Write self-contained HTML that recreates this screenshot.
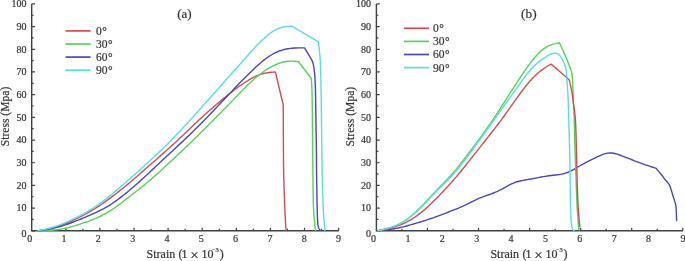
<!DOCTYPE html>
<html><head><meta charset="utf-8"><style>
html,body{margin:0;padding:0;background:#fff;width:685px;height:261px;overflow:hidden}
svg{display:block}
</style></head><body>
<svg width="685" height="261" viewBox="0 0 685 261">
<rect width="685" height="261" fill="#fff"/>
<g>
<path d="M31.70,3.90 V230.80 H338.70" fill="none" stroke="#404040" stroke-width="1.4"/>
<path d="M31.70,230.80 h3.3 M31.70,208.11 h3.3 M31.70,185.42 h3.3 M31.70,162.73 h3.3 M31.70,140.04 h3.3 M31.70,117.35 h3.3 M31.70,94.66 h3.3 M31.70,71.97 h3.3 M31.70,49.28 h3.3 M31.70,26.59 h3.3 M31.70,3.90 h3.3 M31.70,219.46 h2.0 M31.70,196.77 h2.0 M31.70,174.08 h2.0 M31.70,151.38 h2.0 M31.70,128.69 h2.0 M31.70,106.01 h2.0 M31.70,83.31 h2.0 M31.70,60.62 h2.0 M31.70,37.94 h2.0 M31.70,15.25 h2.0 M65.80,230.80 v-3.0 M99.90,230.80 v-3.0 M134.00,230.80 v-3.0 M168.10,230.80 v-3.0 M202.20,230.80 v-3.0 M236.30,230.80 v-3.0 M270.40,230.80 v-3.0 M304.50,230.80 v-3.0 M338.60,230.80 v-3.0 M48.75,230.80 v-2.0 M82.85,230.80 v-2.0 M116.95,230.80 v-2.0 M151.05,230.80 v-2.0 M185.15,230.80 v-2.0 M219.25,230.80 v-2.0 M253.35,230.80 v-2.0 M287.45,230.80 v-2.0 M321.55,230.80 v-2.0 " fill="none" stroke="#404040" stroke-width="1.2"/>
<path d="M376.40,3.90 V230.80 H683.00" fill="none" stroke="#404040" stroke-width="1.4"/>
<path d="M376.40,230.80 h3.3 M376.40,208.11 h3.3 M376.40,185.42 h3.3 M376.40,162.73 h3.3 M376.40,140.04 h3.3 M376.40,117.35 h3.3 M376.40,94.66 h3.3 M376.40,71.97 h3.3 M376.40,49.28 h3.3 M376.40,26.59 h3.3 M376.40,3.90 h3.3 M376.40,219.46 h2.0 M376.40,196.77 h2.0 M376.40,174.08 h2.0 M376.40,151.38 h2.0 M376.40,128.69 h2.0 M376.40,106.01 h2.0 M376.40,83.31 h2.0 M376.40,60.62 h2.0 M376.40,37.94 h2.0 M376.40,15.25 h2.0 M427.46,230.80 v-3.0 M478.52,230.80 v-3.0 M529.58,230.80 v-3.0 M580.64,230.80 v-3.0 M631.70,230.80 v-3.0 M682.76,230.80 v-3.0 M401.93,230.80 v-2.0 M452.99,230.80 v-2.0 M504.05,230.80 v-2.0 M555.11,230.80 v-2.0 M606.17,230.80 v-2.0 M657.23,230.80 v-2.0 " fill="none" stroke="#404040" stroke-width="1.2"/>
<g font-family="Liberation Serif, serif" font-size="10" fill="#333333" stroke="#333333" stroke-width="0.2">
<text x="26.4" y="237.30" text-anchor="end">0</text><text x="26.4" y="211.41" text-anchor="end">10</text><text x="26.4" y="188.72" text-anchor="end">20</text><text x="26.4" y="166.03" text-anchor="end">30</text><text x="26.4" y="143.34" text-anchor="end">40</text><text x="26.4" y="120.65" text-anchor="end">50</text><text x="26.4" y="97.96" text-anchor="end">60</text><text x="26.4" y="75.27" text-anchor="end">70</text><text x="26.4" y="52.58" text-anchor="end">80</text><text x="26.4" y="29.89" text-anchor="end">90</text><text x="26.4" y="7.20" text-anchor="end">100</text>
<text x="370.9" y="237.30" text-anchor="end">0</text><text x="370.9" y="211.41" text-anchor="end">10</text><text x="370.9" y="188.72" text-anchor="end">20</text><text x="370.9" y="166.03" text-anchor="end">30</text><text x="370.9" y="143.34" text-anchor="end">40</text><text x="370.9" y="120.65" text-anchor="end">50</text><text x="370.9" y="97.96" text-anchor="end">60</text><text x="370.9" y="75.27" text-anchor="end">70</text><text x="370.9" y="52.58" text-anchor="end">80</text><text x="370.9" y="29.89" text-anchor="end">90</text><text x="370.9" y="7.20" text-anchor="end">100</text>
<text x="29.70" y="242.4" text-anchor="middle">0</text><text x="64.02" y="242.4" text-anchor="middle">1</text><text x="98.34" y="242.4" text-anchor="middle">2</text><text x="132.66" y="242.4" text-anchor="middle">3</text><text x="166.98" y="242.4" text-anchor="middle">4</text><text x="201.30" y="242.4" text-anchor="middle">5</text><text x="235.62" y="242.4" text-anchor="middle">6</text><text x="269.94" y="242.4" text-anchor="middle">7</text><text x="304.26" y="242.4" text-anchor="middle">8</text><text x="338.58" y="242.4" text-anchor="middle">9</text>
<text x="373.50" y="242.4" text-anchor="middle">0</text><text x="407.88" y="242.4" text-anchor="middle">1</text><text x="442.26" y="242.4" text-anchor="middle">2</text><text x="476.64" y="242.4" text-anchor="middle">3</text><text x="511.02" y="242.4" text-anchor="middle">4</text><text x="545.40" y="242.4" text-anchor="middle">5</text><text x="579.78" y="242.4" text-anchor="middle">6</text><text x="614.16" y="242.4" text-anchor="middle">7</text><text x="648.54" y="242.4" text-anchor="middle">8</text><text x="682.92" y="242.4" text-anchor="middle">9</text>
<line x1="65.6" y1="30.90" x2="90.6" y2="30.90" stroke="#cc5050" stroke-width="1.7"/><text x="96.0" y="34.80" font-size="11.5">0<tspan dx="0.6">°</tspan></text><line x1="65.6" y1="44.00" x2="90.6" y2="44.00" stroke="#5ad05a" stroke-width="1.7"/><text x="96.0" y="47.90" font-size="11.5">30<tspan dx="0.6">°</tspan></text><line x1="65.6" y1="57.10" x2="90.6" y2="57.10" stroke="#4848b4" stroke-width="1.7"/><text x="96.0" y="61.00" font-size="11.5">60<tspan dx="0.6">°</tspan></text><line x1="65.6" y1="70.20" x2="90.6" y2="70.20" stroke="#5adce0" stroke-width="1.7"/><text x="96.0" y="74.10" font-size="11.5">90<tspan dx="0.6">°</tspan></text>
<line x1="404.0" y1="28.30" x2="429.0" y2="28.30" stroke="#cc5050" stroke-width="1.7"/><text x="433.0" y="32.20" font-size="11.5">0<tspan dx="0.6">°</tspan></text><line x1="404.0" y1="41.40" x2="429.0" y2="41.40" stroke="#5ad05a" stroke-width="1.7"/><text x="433.0" y="45.30" font-size="11.5">30<tspan dx="0.6">°</tspan></text><line x1="404.0" y1="54.50" x2="429.0" y2="54.50" stroke="#4848b4" stroke-width="1.7"/><text x="433.0" y="58.40" font-size="11.5">60<tspan dx="0.6">°</tspan></text><line x1="404.0" y1="67.60" x2="429.0" y2="67.60" stroke="#5adce0" stroke-width="1.7"/><text x="433.0" y="71.50" font-size="11.5">90<tspan dx="0.6">°</tspan></text>
<text x="146.55" y="257.6" font-size="12">Strain</text><text x="178.60" y="257.6" font-size="12">(</text><text x="181.60" y="257.6" font-size="12">1</text><text x="190.25" y="259.6" font-size="15">×</text><text x="201.50" y="257.6" font-size="12">10</text><text x="212.35" y="251.0" font-size="7">-</text><text x="215.50" y="251.6" font-size="6.5">3</text><text x="219.65" y="257.6" font-size="12">)</text>
<text x="490.45" y="257.6" font-size="12">Strain</text><text x="522.50" y="257.6" font-size="12">(</text><text x="525.50" y="257.6" font-size="12">1</text><text x="534.15" y="259.6" font-size="15">×</text><text x="545.40" y="257.6" font-size="12">10</text><text x="556.25" y="251.0" font-size="7">-</text><text x="559.40" y="251.6" font-size="6.5">3</text><text x="563.55" y="257.6" font-size="12">)</text>
<text transform="translate(8.7,116.5) rotate(-90)" text-anchor="middle" font-size="11.6">Stress (Mpa)</text>
<text transform="translate(353.5,116.6) rotate(-90)" text-anchor="middle" font-size="11.6">Stress (Mpa)</text>
<text x="177.2" y="17.5" font-size="13">(a)</text><text x="521.1" y="18.2" font-size="13.3">(b)</text>
</g>
<path d="M38.50,230.80 L40.52,230.47 L42.55,230.13 L44.57,229.76 L46.60,229.38 L48.62,228.96 L50.65,228.49 L52.67,227.98 L54.70,227.41 L56.72,226.80 L58.75,226.14 L60.77,225.44 L62.80,224.70 L64.82,223.91 L66.85,223.08 L68.87,222.21 L70.90,221.32 L72.92,220.39 L74.95,219.43 L76.97,218.44 L79.00,217.43 L81.02,216.39 L83.05,215.33 L85.07,214.25 L87.09,213.15 L89.12,212.02 L91.14,210.88 L93.17,209.70 L95.19,208.48 L97.22,207.21 L99.24,205.90 L101.27,204.53 L103.29,203.11 L105.32,201.66 L107.34,200.18 L109.37,198.67 L111.39,197.14 L113.42,195.60 L115.44,194.05 L117.47,192.49 L119.49,190.91 L121.52,189.31 L123.54,187.69 L125.57,186.06 L127.59,184.40 L129.62,182.72 L131.64,181.01 L133.66,179.27 L135.69,177.51 L137.71,175.73 L139.74,173.94 L141.76,172.16 L143.79,170.37 L145.81,168.59 L147.84,166.80 L149.86,165.02 L151.89,163.24 L153.91,161.46 L155.94,159.69 L157.96,157.92 L159.99,156.15 L162.01,154.38 L164.04,152.60 L166.06,150.82 L168.09,149.02 L170.11,147.21 L172.14,145.38 L174.16,143.53 L176.19,141.65 L178.21,139.76 L180.24,137.86 L182.26,135.94 L184.28,134.01 L186.31,132.08 L188.33,130.15 L190.36,128.21 L192.38,126.28 L194.41,124.36 L196.43,122.44 L198.46,120.54 L200.48,118.66 L202.51,116.79 L204.53,114.94 L206.56,113.10 L208.58,111.29 L210.61,109.49 L212.63,107.72 L214.66,105.96 L216.68,104.22 L218.71,102.50 L220.73,100.80 L222.76,99.12 L224.78,97.46 L226.81,95.83 L228.83,94.22 L230.85,92.63 L232.88,91.07 L234.90,89.54 L236.93,88.04 L238.95,86.56 L240.98,85.12 L243.00,83.71 L245.03,82.34 L247.05,81.03 L249.08,79.78 L251.10,78.61 L253.13,77.51 L255.15,76.51 L257.18,75.60 L259.20,74.80 L261.23,74.11 L263.25,73.53 L265.28,73.07 L267.30,72.71 L269.33,72.44 L271.35,72.25 L273.38,72.11 L275.40,72.00 L279.40,89.00 L283.20,104.50 L283.21,105.81 L283.23,107.50 L283.24,109.56 L283.26,112.00 L283.28,114.81 L283.30,118.00 L283.31,121.70 L283.33,125.93 L283.34,130.53 L283.35,135.35 L283.37,140.23 L283.40,145.00 L283.43,149.69 L283.46,154.44 L283.49,159.25 L283.54,164.11 L283.61,169.03 L283.70,174.00 L283.82,179.11 L283.97,184.39 L284.14,189.71 L284.32,194.99 L284.51,200.12 L284.70,205.00 L284.91,209.88 L285.16,214.88 L285.41,219.74 L285.65,224.16 L285.86,227.88 L286.00,230.60" fill="none" stroke="#cc5050" stroke-width="1.4" stroke-linejoin="round" stroke-linecap="round"/>
<path d="M41.00,230.80 L43.03,230.72 L45.06,230.63 L47.08,230.53 L49.11,230.40 L51.14,230.25 L53.17,230.07 L55.19,229.86 L57.22,229.62 L59.25,229.33 L61.28,229.01 L63.30,228.64 L65.33,228.24 L67.36,227.78 L69.39,227.29 L71.41,226.75 L73.44,226.18 L75.47,225.58 L77.50,224.96 L79.52,224.31 L81.55,223.64 L83.58,222.96 L85.61,222.26 L87.63,221.54 L89.66,220.79 L91.69,220.01 L93.72,219.19 L95.74,218.34 L97.77,217.44 L99.80,216.50 L101.83,215.50 L103.85,214.45 L105.88,213.34 L107.91,212.16 L109.94,210.92 L111.96,209.61 L113.99,208.24 L116.02,206.81 L118.05,205.34 L120.07,203.83 L122.10,202.30 L124.13,200.74 L126.16,199.18 L128.19,197.60 L130.21,196.03 L132.24,194.45 L134.27,192.87 L136.30,191.30 L138.32,189.71 L140.35,188.12 L142.38,186.51 L144.41,184.88 L146.43,183.23 L148.46,181.55 L150.49,179.84 L152.52,178.10 L154.54,176.33 L156.57,174.52 L158.60,172.69 L160.63,170.84 L162.65,168.96 L164.68,167.08 L166.71,165.18 L168.74,163.28 L170.76,161.37 L172.79,159.47 L174.82,157.57 L176.85,155.67 L178.87,153.77 L180.90,151.87 L182.93,149.97 L184.96,148.05 L186.98,146.13 L189.01,144.20 L191.04,142.25 L193.07,140.29 L195.09,138.31 L197.12,136.33 L199.15,134.33 L201.18,132.33 L203.20,130.32 L205.23,128.30 L207.26,126.27 L209.29,124.24 L211.31,122.20 L213.34,120.16 L215.37,118.11 L217.40,116.06 L219.43,114.01 L221.45,111.94 L223.48,109.87 L225.51,107.79 L227.54,105.70 L229.56,103.60 L231.59,101.49 L233.62,99.37 L235.65,97.26 L237.67,95.16 L239.70,93.07 L241.73,91.01 L243.76,88.97 L245.78,86.95 L247.81,84.97 L249.84,83.03 L251.87,81.14 L253.89,79.31 L255.92,77.56 L257.95,75.87 L259.98,74.26 L262.00,72.73 L264.03,71.28 L266.06,69.91 L268.09,68.62 L270.11,67.42 L272.14,66.30 L274.17,65.28 L276.20,64.35 L278.22,63.53 L280.25,62.81 L282.28,62.21 L284.31,61.74 L286.33,61.40 L288.36,61.19 L290.39,61.11 L292.42,61.15 L294.44,61.30 L296.47,61.52 L298.50,61.80 L311.30,78.50 L311.38,79.69 L311.49,81.20 L311.62,83.06 L311.76,85.30 L311.89,87.93 L312.00,91.00 L312.08,94.33 L312.15,97.85 L312.21,101.78 L312.27,106.31 L312.33,111.65 L312.40,118.00 L312.48,125.94 L312.56,135.44 L312.64,145.75 L312.73,156.11 L312.82,165.78 L312.90,174.00 L312.98,180.80 L313.05,186.78 L313.12,192.06 L313.20,196.78 L313.29,201.05 L313.40,205.00 L313.52,208.48 L313.66,211.35 L313.81,213.78 L313.96,215.93 L314.13,217.95 L314.30,220.00 L314.50,222.13 L314.72,224.22 L314.96,226.19 L315.18,227.94 L315.37,229.41 L315.50,230.50" fill="none" stroke="#5ad05a" stroke-width="1.4" stroke-linejoin="round" stroke-linecap="round"/>
<path d="M38.90,230.70 L40.93,230.42 L42.95,230.13 L44.98,229.82 L47.01,229.50 L49.04,229.15 L51.06,228.76 L53.09,228.33 L55.12,227.87 L57.15,227.37 L59.17,226.82 L61.20,226.24 L63.23,225.61 L65.26,224.95 L67.28,224.25 L69.31,223.51 L71.34,222.75 L73.37,221.98 L75.39,221.19 L77.42,220.38 L79.45,219.56 L81.48,218.73 L83.50,217.89 L85.53,217.03 L87.56,216.17 L89.59,215.30 L91.61,214.42 L93.64,213.52 L95.67,212.60 L97.70,211.65 L99.72,210.67 L101.75,209.65 L103.78,208.59 L105.81,207.47 L107.83,206.29 L109.86,205.05 L111.89,203.74 L113.92,202.37 L115.94,200.93 L117.97,199.45 L120.00,197.92 L122.03,196.36 L124.05,194.76 L126.08,193.12 L128.11,191.45 L130.14,189.76 L132.16,188.03 L134.19,186.28 L136.22,184.50 L138.25,182.70 L140.27,180.88 L142.30,179.04 L144.33,177.19 L146.36,175.31 L148.38,173.43 L150.41,171.53 L152.44,169.63 L154.47,167.72 L156.49,165.81 L158.52,163.90 L160.55,161.99 L162.58,160.09 L164.60,158.20 L166.63,156.31 L168.66,154.43 L170.69,152.56 L172.71,150.68 L174.74,148.80 L176.77,146.92 L178.80,145.03 L180.82,143.13 L182.85,141.22 L184.88,139.30 L186.91,137.37 L188.93,135.42 L190.96,133.47 L192.99,131.49 L195.02,129.51 L197.04,127.51 L199.07,125.49 L201.10,123.46 L203.13,121.41 L205.15,119.34 L207.18,117.25 L209.21,115.15 L211.24,113.04 L213.26,110.91 L215.29,108.77 L217.32,106.63 L219.35,104.48 L221.37,102.34 L223.40,100.19 L225.43,98.05 L227.46,95.90 L229.48,93.76 L231.51,91.61 L233.54,89.47 L235.57,87.33 L237.59,85.20 L239.62,83.09 L241.65,81.00 L243.68,78.93 L245.70,76.89 L247.73,74.88 L249.76,72.89 L251.79,70.93 L253.81,69.00 L255.84,67.11 L257.87,65.26 L259.90,63.46 L261.92,61.73 L263.95,60.09 L265.98,58.54 L268.01,57.09 L270.03,55.74 L272.06,54.51 L274.09,53.38 L276.12,52.38 L278.14,51.49 L280.17,50.71 L282.20,50.06 L284.23,49.50 L286.25,49.05 L288.28,48.69 L290.31,48.41 L292.34,48.21 L294.36,48.07 L296.39,47.97 L298.42,47.92 L300.45,47.90 L302.47,47.89 L304.50,47.90 L304.96,48.65 L305.60,49.69 L306.36,50.92 L307.17,52.24 L307.97,53.57 L308.70,54.80 L309.38,55.93 L310.07,57.05 L310.76,58.16 L311.40,59.30 L311.99,60.47 L312.50,61.70 L312.91,62.92 L313.24,64.11 L313.52,65.34 L313.76,66.69 L313.98,68.21 L314.20,70.00 L314.42,71.90 L314.63,73.84 L314.82,75.96 L314.99,78.42 L315.15,81.38 L315.30,85.00 L315.43,89.47 L315.54,94.70 L315.64,100.44 L315.73,106.41 L315.81,112.35 L315.90,118.00 L315.99,123.48 L316.09,129.04 L316.17,134.56 L316.26,139.96 L316.34,145.14 L316.40,150.00 L316.45,154.38 L316.48,158.33 L316.50,162.06 L316.52,165.78 L316.55,169.69 L316.60,174.00 L316.67,178.95 L316.74,184.41 L316.83,190.06 L316.92,195.59 L317.01,200.68 L317.10,205.00 L317.18,208.53 L317.26,211.51 L317.34,214.04 L317.43,216.24 L317.51,218.19 L317.60,220.00 L317.69,221.59 L317.77,222.87 L317.86,223.90 L317.96,224.77 L318.07,225.54 L318.20,226.30 L318.35,227.01 L318.51,227.61 L318.68,228.12 L318.87,228.56 L319.08,228.94 L319.30,229.30 L319.57,229.62 L319.89,229.88 L320.22,230.09 L320.54,230.26 L320.81,230.39 L321.00,230.50" fill="none" stroke="#4848b4" stroke-width="1.4" stroke-linejoin="round" stroke-linecap="round"/>
<path d="M38.00,230.80 L40.03,230.37 L42.07,229.93 L44.10,229.48 L46.13,229.00 L48.16,228.49 L50.20,227.95 L52.23,227.37 L54.26,226.75 L56.29,226.08 L58.33,225.38 L60.36,224.63 L62.39,223.85 L64.42,223.03 L66.46,222.18 L68.49,221.30 L70.52,220.39 L72.56,219.45 L74.59,218.49 L76.62,217.49 L78.65,216.46 L80.69,215.40 L82.72,214.31 L84.75,213.19 L86.78,212.02 L88.82,210.83 L90.85,209.59 L92.88,208.31 L94.91,206.98 L96.95,205.60 L98.98,204.18 L101.01,202.69 L103.05,201.17 L105.08,199.60 L107.11,197.99 L109.14,196.36 L111.18,194.70 L113.21,193.03 L115.24,191.34 L117.27,189.63 L119.31,187.91 L121.34,186.17 L123.37,184.43 L125.40,182.67 L127.44,180.91 L129.47,179.14 L131.50,177.36 L133.54,175.57 L135.57,173.77 L137.60,171.95 L139.63,170.12 L141.67,168.28 L143.70,166.42 L145.73,164.56 L147.76,162.68 L149.80,160.81 L151.83,158.93 L153.86,157.04 L155.90,155.15 L157.93,153.24 L159.96,151.32 L161.99,149.39 L164.03,147.43 L166.06,145.44 L168.09,143.43 L170.12,141.38 L172.16,139.31 L174.19,137.21 L176.22,135.09 L178.25,132.95 L180.29,130.78 L182.32,128.60 L184.35,126.40 L186.39,124.19 L188.42,121.96 L190.45,119.72 L192.48,117.47 L194.52,115.21 L196.55,112.95 L198.58,110.68 L200.61,108.41 L202.65,106.14 L204.68,103.86 L206.71,101.59 L208.74,99.32 L210.78,97.05 L212.81,94.77 L214.84,92.48 L216.88,90.19 L218.91,87.89 L220.94,85.58 L222.97,83.26 L225.01,80.95 L227.04,78.64 L229.07,76.34 L231.10,74.04 L233.14,71.76 L235.17,69.48 L237.20,67.22 L239.23,64.98 L241.27,62.74 L243.30,60.50 L244.23,59.44 L245.42,58.09 L246.75,56.57 L248.11,55.02 L249.40,53.55 L250.50,52.30 L251.40,51.28 L252.18,50.41 L252.89,49.62 L253.56,48.87 L254.25,48.11 L255.00,47.30 L255.79,46.43 L256.59,45.55 L257.41,44.66 L258.24,43.77 L259.10,42.88 L260.00,42.00 L260.95,41.12 L261.96,40.22 L262.99,39.33 L264.03,38.46 L265.04,37.61 L266.00,36.80 L266.88,36.04 L267.71,35.31 L268.51,34.62 L269.31,33.94 L270.17,33.27 L271.10,32.60 L272.13,31.91 L273.22,31.20 L274.36,30.51 L275.51,29.84 L276.67,29.23 L277.80,28.70 L278.89,28.25 L279.96,27.87 L281.03,27.54 L282.11,27.26 L283.23,27.02 L284.40,26.80 L285.72,26.62 L287.20,26.48 L288.71,26.38 L290.13,26.31 L291.34,26.25 L292.20,26.20 L292.20,26.30 L318.50,41.80 L318.58,42.65 L318.70,43.79 L318.84,45.15 L318.99,46.68 L319.15,48.32 L319.30,50.00 L319.46,51.58 L319.63,53.09 L319.80,54.70 L319.97,56.60 L320.14,58.97 L320.30,62.00 L320.45,65.62 L320.59,69.67 L320.73,74.19 L320.86,79.22 L320.98,84.81 L321.10,91.00 L321.21,98.18 L321.32,106.41 L321.42,115.19 L321.51,124.04 L321.61,132.47 L321.70,140.00 L321.78,146.57 L321.86,152.56 L321.93,158.12 L322.01,163.44 L322.09,168.68 L322.20,174.00 L322.33,179.53 L322.47,185.15 L322.62,190.69 L322.79,195.96 L322.95,200.79 L323.10,205.00 L323.25,208.48 L323.40,211.35 L323.54,213.78 L323.69,215.93 L323.84,217.95 L324.00,220.00 L324.17,222.13 L324.36,224.22 L324.56,226.19 L324.74,227.94 L324.89,229.41 L325.00,230.50" fill="none" stroke="#5adce0" stroke-width="1.4" stroke-linejoin="round" stroke-linecap="round"/>
<path d="M378.00,230.80 L380.02,230.57 L382.03,230.33 L384.05,230.09 L386.06,229.85 L388.08,229.58 L390.09,229.31 L392.11,229.01 L394.12,228.69 L396.14,228.33 L398.15,227.95 L400.17,227.52 L402.18,227.06 L404.20,226.57 L406.21,226.05 L408.23,225.51 L410.24,224.95 L412.26,224.37 L414.27,223.78 L416.29,223.19 L418.30,222.58 L420.32,221.96 L422.33,221.35 L424.35,220.72 L426.37,220.09 L428.38,219.44 L430.40,218.78 L432.41,218.10 L434.43,217.40 L436.44,216.68 L438.46,215.93 L440.47,215.15 L442.49,214.37 L444.50,213.58 L446.52,212.78 L448.53,211.98 L450.55,211.20 L452.56,210.42 L454.58,209.64 L456.59,208.85 L458.61,208.04 L460.62,207.21 L462.64,206.34 L464.65,205.42 L466.67,204.44 L468.68,203.42 L470.70,202.37 L472.72,201.31 L474.73,200.29 L476.75,199.33 L478.76,198.43 L480.78,197.61 L482.79,196.85 L484.81,196.14 L486.82,195.45 L488.84,194.75 L490.85,194.04 L492.87,193.28 L494.88,192.48 L496.90,191.60 L498.91,190.65 L500.93,189.62 L502.94,188.54 L504.96,187.43 L506.97,186.32 L508.99,185.24 L511.00,184.22 L513.02,183.28 L515.03,182.46 L517.05,181.77 L519.07,181.21 L521.08,180.74 L523.10,180.33 L525.11,179.97 L527.13,179.62 L529.14,179.29 L531.16,178.95 L533.17,178.60 L535.19,178.22 L537.20,177.82 L539.22,177.42 L541.23,177.03 L543.25,176.66 L545.26,176.32 L547.28,176.01 L549.29,175.74 L551.31,175.49 L553.32,175.25 L555.34,175.01 L557.35,174.77 L559.37,174.49 L561.38,174.14 L563.40,173.71 L565.42,173.17 L567.43,172.48 L569.45,171.64 L571.46,170.68 L573.48,169.58 L575.49,168.40 L577.51,167.20 L579.52,166.01 L581.54,164.86 L583.55,163.77 L585.57,162.73 L587.58,161.70 L589.60,160.69 L591.61,159.67 L593.63,158.67 L595.64,157.68 L597.66,156.71 L599.67,155.77 L601.69,154.91 L603.70,154.16 L605.72,153.56 L607.73,153.15 L609.75,152.96 L611.77,153.01 L613.78,153.26 L615.80,153.71 L617.81,154.31 L619.83,155.02 L621.84,155.79 L623.86,156.57 L625.87,157.36 L627.89,158.15 L629.90,158.94 L631.92,159.73 L633.93,160.53 L635.95,161.32 L637.96,162.10 L639.98,162.87 L641.99,163.62 L644.01,164.34 L646.02,165.04 L648.04,165.71 L650.05,166.38 L652.07,167.02 L654.08,167.66 L656.10,168.30 L656.74,169.05 L657.64,170.12 L658.69,171.37 L659.80,172.68 L660.83,173.93 L661.70,175.00 L662.38,175.88 L662.95,176.66 L663.46,177.38 L663.94,178.07 L664.44,178.77 L665.00,179.50 L665.64,180.27 L666.34,181.05 L667.05,181.84 L667.74,182.61 L668.37,183.37 L668.90,184.10 L669.30,184.73 L669.59,185.27 L669.82,185.78 L670.04,186.36 L670.28,187.07 L670.60,188.00 L671.00,189.22 L671.45,190.68 L671.92,192.27 L672.41,193.91 L672.87,195.49 L673.30,196.90 L673.70,198.17 L674.10,199.38 L674.48,200.53 L674.83,201.62 L675.14,202.64 L675.40,203.60 L675.60,204.45 L675.75,205.18 L675.86,205.84 L675.95,206.50 L676.02,207.20 L676.10,208.00 L676.17,208.90 L676.23,209.86 L676.28,210.86 L676.32,211.90 L676.36,212.95 L676.40,214.00 L676.44,215.14 L676.48,216.40 L676.52,217.68 L676.55,218.87 L676.58,219.88 L676.60,220.60" fill="none" stroke="#4848b4" stroke-width="1.4" stroke-linejoin="round" stroke-linecap="round"/>
<path d="M378.00,230.80 L380.04,230.31 L382.08,229.81 L384.11,229.29 L386.15,228.75 L388.19,228.19 L390.23,227.58 L392.27,226.91 L394.31,226.17 L396.34,225.35 L398.38,224.42 L400.42,223.38 L402.46,222.22 L404.50,220.94 L406.53,219.56 L408.57,218.06 L410.61,216.45 L412.65,214.73 L414.69,212.92 L416.73,211.02 L418.76,209.04 L420.80,207.01 L422.84,204.91 L424.88,202.77 L426.92,200.60 L428.96,198.40 L430.99,196.21 L433.03,194.02 L435.07,191.86 L437.11,189.73 L439.15,187.64 L441.18,185.57 L443.22,183.49 L445.26,181.40 L447.30,179.27 L449.34,177.08 L451.38,174.83 L453.41,172.49 L455.45,170.08 L457.49,167.60 L459.53,165.07 L461.57,162.48 L463.60,159.85 L465.64,157.19 L467.68,154.50 L469.72,151.79 L471.76,149.07 L473.80,146.35 L475.83,143.61 L477.87,140.86 L479.91,138.09 L481.95,135.30 L483.99,132.48 L486.02,129.63 L488.06,126.74 L490.10,123.80 L492.14,120.82 L494.18,117.79 L496.22,114.70 L498.25,111.58 L500.29,108.42 L502.33,105.25 L504.37,102.05 L506.41,98.85 L508.44,95.65 L510.48,92.46 L512.52,89.29 L514.56,86.14 L516.60,83.03 L518.64,79.94 L520.67,76.89 L522.71,73.88 L524.75,70.90 L526.79,67.97 L528.83,65.11 L530.87,62.35 L532.90,59.72 L534.94,57.25 L536.98,54.96 L539.02,52.88 L541.06,51.01 L543.09,49.36 L545.13,47.93 L547.17,46.71 L549.21,45.69 L551.25,44.86 L553.29,44.18 L555.32,43.61 L557.36,43.13 L559.40,42.70 L559.83,43.64 L560.43,44.96 L561.14,46.51 L561.89,48.17 L562.63,49.81 L563.30,51.30 L563.89,52.62 L564.45,53.88 L565.00,55.11 L565.55,56.37 L566.11,57.68 L566.70,59.10 L567.35,60.68 L568.05,62.39 L568.76,64.17 L569.45,65.93 L570.08,67.60 L570.60,69.10 L571.01,70.36 L571.34,71.41 L571.61,72.37 L571.83,73.36 L572.02,74.46 L572.20,75.80 L572.36,77.39 L572.47,79.13 L572.56,81.01 L572.64,82.97 L572.71,84.98 L572.80,87.00 L572.90,89.05 L573.00,91.16 L573.10,93.33 L573.20,95.53 L573.30,97.75 L573.40,100.00 L573.50,102.31 L573.61,104.70 L573.71,107.12 L573.81,109.52 L573.91,111.83 L574.00,114.00 L574.08,115.86 L574.14,117.41 L574.20,118.88 L574.26,120.48 L574.32,122.45 L574.40,125.00 L574.48,128.22 L574.57,131.96 L574.67,136.06 L574.77,140.37 L574.88,144.73 L575.00,149.00 L575.13,153.29 L575.29,157.74 L575.44,162.25 L575.60,166.70 L575.76,170.99 L575.90,175.00 L576.03,178.74 L576.15,182.30 L576.26,185.69 L576.37,188.93 L576.49,192.03 L576.60,195.00 L576.71,197.82 L576.83,200.48 L576.94,203.00 L577.05,205.41 L577.17,207.73 L577.30,210.00 L577.44,212.22 L577.59,214.36 L577.74,216.42 L577.90,218.39 L578.05,220.25 L578.20,222.00 L578.35,223.69 L578.50,225.35 L578.66,226.90 L578.80,228.29 L578.91,229.44 L579.00,230.30" fill="none" stroke="#5ad05a" stroke-width="1.4" stroke-linejoin="round" stroke-linecap="round"/>
<path d="M378.00,230.80 L380.04,230.44 L382.07,230.07 L384.11,229.67 L386.15,229.25 L388.18,228.78 L390.22,228.27 L392.26,227.71 L394.29,227.09 L396.33,226.41 L398.36,225.68 L400.40,224.87 L402.44,224.00 L404.47,223.06 L406.51,222.05 L408.55,220.97 L410.58,219.82 L412.62,218.59 L414.66,217.27 L416.69,215.88 L418.73,214.40 L420.77,212.83 L422.80,211.16 L424.84,209.42 L426.88,207.61 L428.91,205.74 L430.95,203.81 L432.98,201.84 L435.02,199.83 L437.06,197.78 L439.09,195.69 L441.13,193.57 L443.17,191.42 L445.20,189.24 L447.24,187.03 L449.28,184.79 L451.31,182.52 L453.35,180.20 L455.39,177.85 L457.42,175.46 L459.46,173.02 L461.50,170.54 L463.53,168.04 L465.57,165.50 L467.60,162.94 L469.64,160.37 L471.68,157.78 L473.71,155.19 L475.75,152.59 L477.79,150.00 L479.82,147.42 L481.86,144.85 L483.90,142.28 L485.93,139.71 L487.97,137.13 L490.01,134.55 L492.04,131.95 L494.08,129.33 L496.12,126.69 L498.15,124.01 L500.19,121.31 L502.22,118.57 L504.26,115.78 L506.30,112.95 L508.33,110.09 L510.37,107.21 L512.41,104.32 L514.44,101.44 L516.48,98.58 L518.52,95.75 L520.55,92.97 L522.59,90.25 L524.63,87.60 L526.66,85.04 L528.70,82.58 L530.74,80.24 L532.77,78.03 L534.81,75.97 L536.84,74.06 L538.88,72.29 L540.92,70.66 L542.95,69.17 L544.99,67.78 L547.03,66.49 L549.06,65.27 L551.10,64.10 L559.40,71.30 L567.20,78.00 L569.40,80.20 L569.53,80.81 L569.70,81.63 L569.90,82.61 L570.13,83.70 L570.36,84.84 L570.60,86.00 L570.85,87.16 L571.11,88.36 L571.39,89.62 L571.67,90.95 L571.94,92.37 L572.20,93.90 L572.45,95.59 L572.69,97.44 L572.92,99.38 L573.15,101.34 L573.37,103.23 L573.60,105.00 L573.83,106.60 L574.06,108.08 L574.29,109.51 L574.51,110.93 L574.71,112.41 L574.90,114.00 L575.06,115.57 L575.21,117.04 L575.34,118.56 L575.46,120.30 L575.58,122.39 L575.70,125.00 L575.82,128.22 L575.94,131.96 L576.06,136.06 L576.18,140.37 L576.29,144.73 L576.40,149.00 L576.51,153.29 L576.61,157.74 L576.71,162.25 L576.80,166.70 L576.90,170.99 L577.00,175.00 L577.10,178.74 L577.19,182.30 L577.29,185.69 L577.39,188.93 L577.49,192.03 L577.60,195.00 L577.72,197.85 L577.85,200.56 L577.99,203.12 L578.13,205.56 L578.26,207.85 L578.40,210.00 L578.54,212.00 L578.67,213.83 L578.81,215.53 L578.95,217.11 L579.08,218.59 L579.20,220.00 L579.32,221.36 L579.44,222.67 L579.55,223.88 L579.65,224.94 L579.74,225.83 L579.80,226.50" fill="none" stroke="#cc5050" stroke-width="1.4" stroke-linejoin="round" stroke-linecap="round"/>
<path d="M378.00,230.80 L380.03,230.31 L382.07,229.82 L384.10,229.31 L386.14,228.78 L388.17,228.23 L390.21,227.63 L392.24,226.99 L394.28,226.27 L396.31,225.47 L398.35,224.56 L400.38,223.54 L402.41,222.40 L404.45,221.14 L406.48,219.78 L408.52,218.31 L410.55,216.75 L412.59,215.09 L414.62,213.35 L416.66,211.53 L418.69,209.63 L420.73,207.68 L422.76,205.66 L424.79,203.59 L426.83,201.48 L428.86,199.34 L430.90,197.19 L432.93,195.05 L434.97,192.92 L437.00,190.83 L439.04,188.78 L441.07,186.76 L443.10,184.76 L445.14,182.75 L447.17,180.71 L449.21,178.63 L451.24,176.48 L453.28,174.24 L455.31,171.91 L457.35,169.50 L459.38,167.02 L461.42,164.47 L463.45,161.86 L465.48,159.20 L467.52,156.50 L469.55,153.77 L471.59,151.01 L473.62,148.24 L475.66,145.45 L477.69,142.66 L479.73,139.86 L481.76,137.05 L483.80,134.23 L485.83,131.40 L487.86,128.57 L489.90,125.74 L491.93,122.90 L493.97,120.05 L496.00,117.20 L498.04,114.35 L500.07,111.50 L502.11,108.65 L504.14,105.79 L506.17,102.93 L508.21,100.08 L510.24,97.22 L512.28,94.35 L514.31,91.49 L516.35,88.63 L518.38,85.77 L520.42,82.92 L522.45,80.12 L524.49,77.38 L526.52,74.73 L528.55,72.20 L530.59,69.80 L532.62,67.55 L534.66,65.48 L536.69,63.58 L538.73,61.85 L540.76,60.26 L542.80,58.82 L544.83,57.48 L546.87,56.22 L548.90,55.00 L549.36,54.82 L550.02,54.57 L550.79,54.27 L551.59,53.97 L552.36,53.70 L553.00,53.50 L553.51,53.35 L553.95,53.21 L554.35,53.11 L554.74,53.04 L555.14,53.04 L555.60,53.10 L556.12,53.23 L556.67,53.42 L557.25,53.67 L557.83,53.97 L558.38,54.31 L558.90,54.70 L559.38,55.14 L559.84,55.65 L560.28,56.20 L560.70,56.79 L561.10,57.39 L561.50,58.00 L561.88,58.61 L562.25,59.24 L562.60,59.89 L562.94,60.57 L563.27,61.27 L563.60,62.00 L563.93,62.76 L564.25,63.56 L564.56,64.38 L564.86,65.22 L565.14,66.10 L565.40,67.00 L565.63,67.93 L565.84,68.88 L566.04,69.86 L566.21,70.87 L566.37,71.92 L566.50,73.00 L566.60,74.12 L566.68,75.29 L566.73,76.49 L566.78,77.71 L566.83,78.95 L566.90,80.20 L566.99,81.42 L567.08,82.60 L567.18,83.80 L567.29,85.07 L567.39,86.45 L567.50,88.00 L567.61,89.73 L567.74,91.61 L567.86,93.61 L567.99,95.70 L568.10,97.84 L568.20,100.00 L568.28,102.01 L568.34,103.85 L568.39,105.75 L568.44,107.93 L568.51,110.60 L568.60,114.00 L568.72,118.33 L568.87,123.44 L569.04,129.06 L569.20,134.89 L569.36,140.63 L569.50,146.00 L569.62,151.05 L569.73,156.04 L569.84,160.94 L569.93,165.74 L570.02,170.43 L570.10,175.00 L570.17,179.51 L570.22,184.00 L570.26,188.38 L570.30,192.56 L570.35,196.46 L570.40,200.00 L570.46,203.15 L570.51,205.96 L570.57,208.50 L570.64,210.81 L570.71,212.96 L570.80,215.00 L570.90,216.89 L571.00,218.59 L571.11,220.12 L571.23,221.52 L571.36,222.80 L571.50,224.00 L571.64,225.10 L571.79,226.09 L571.95,226.96 L572.12,227.73 L572.30,228.41 L572.50,229.00 L572.74,229.48 L573.02,229.84 L573.31,230.11 L573.59,230.31 L573.83,230.47 L574.00,230.60" fill="none" stroke="#5adce0" stroke-width="1.4" stroke-linejoin="round" stroke-linecap="round"/>
</g></svg>
</body></html>
